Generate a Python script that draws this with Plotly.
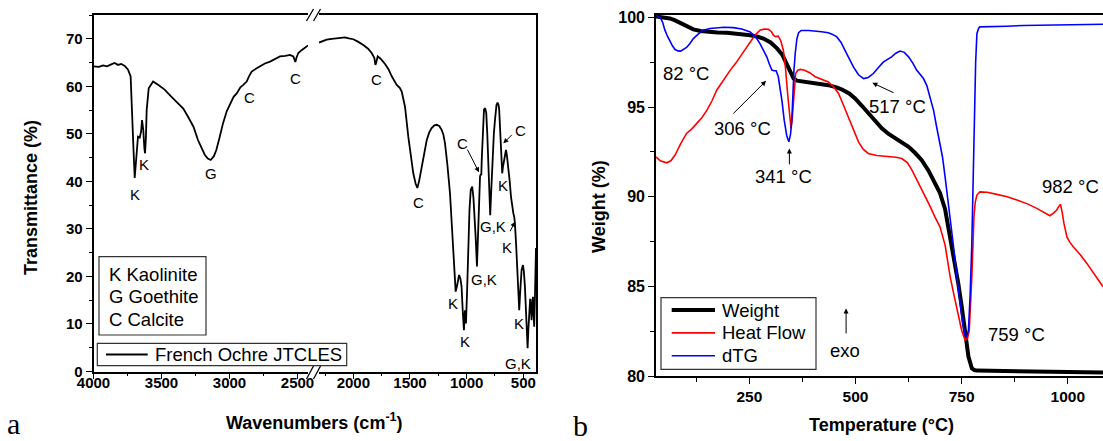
import plotly.graph_objects as go

# ---------------- data : FTIR (panel a) ----------------
wavenumber = [4000, 3960, 3930, 3900, 3870, 3845, 3820, 3796, 3770, 3746, 3727, 3715, 3705, 3697, 3690,
              3685, 3673, 3660, 3650, 3643, 3634, 3626, 3621, 3615, 3609, 3594, 3562, 3520, 3477, 3430,
              3379, 3340, 3305, 3265, 3232, 3200, 3182, 3160, 3138, 3115, 3097, 3075, 3048, 3020, 2996,
              2970, 2947, 2920, 2899, 2874, 2855, 2837, 2800, 2776, 2740, 2702, 2665, 2629, 2590, 2555,
              2531, 2522, 2516, 2508, 2494, 2470, 2445, 2423,
              2303, 2270, 2235, 2190, 2147, 2110, 2073, 2040, 2000, 1960, 1912, 1870, 1838, 1815, 1805,
              1798, 1785, 1760, 1720, 1690, 1661, 1617, 1590, 1573, 1544, 1515, 1490, 1471, 1450, 1435,
              1420, 1397, 1375, 1352, 1330, 1309, 1285, 1265, 1240, 1220, 1205, 1191, 1170, 1147, 1130,
              1118, 1105, 1097, 1085, 1067, 1055, 1045, 1035, 1024, 1018, 1015, 1010, 1006, 996, 986,
              975, 964, 951, 940, 933, 920, 909, 903, 897, 882, 876, 871, 866, 862, 855, 847, 837, 827,
              818, 810, 800, 792, 785, 774, 760, 750, 737, 727, 718, 713, 705, 701, 695, 690, 686, 680,
              671, 660, 653, 645, 633, 620, 609, 598, 588, 580, 574, 563, 553, 545, 536, 527, 515, 503,
              495, 486, 475, 462, 455, 448, 440, 436, 431, 427, 420, 415, 410, 404, 398, 392, 388]
transmittance = [64.2, 64.1, 64.4, 64.2, 64.6, 64.9, 64.5, 64.7, 64.3, 63.5, 62.1, 55.0, 46.0, 40.7, 43.5,
                 46.6, 49.4, 49.2, 50.5, 52.9, 50.8, 47.0, 45.9, 49.0, 55.0, 59.6, 61.0, 60.2, 59.3, 57.9,
                 56.5, 55.3, 53.6, 51.5, 48.7, 46.5, 45.6, 44.8, 44.5, 45.3, 46.6, 49.0, 52.2, 54.8, 56.4,
                 57.8, 58.5, 59.8, 60.3, 61.0, 62.2, 63.1, 63.8, 64.2, 64.8, 65.2, 65.8, 66.3, 66.4, 66.6,
                 66.3, 65.6, 65.1, 66.0, 67.0, 67.6, 68.2, 68.6,
                 69.2, 69.5, 69.8, 70.0, 70.1, 70.3, 70.3, 70.1, 69.9, 69.4, 68.7, 67.9, 67.0, 66.0, 64.5,
                 65.0, 66.3, 65.8, 64.7, 63.6, 62.1, 60.3, 59.7, 58.9, 55.7, 49.4, 45.0, 41.7, 39.5, 38.6,
                 40.0, 43.1, 46.0, 48.7, 50.3, 51.2, 51.8, 51.9, 51.6, 50.8, 49.8, 48.0, 43.5, 37.5, 30.5,
                 25.6, 19.5, 16.8, 18.0, 20.3, 19.5, 17.9, 13.0, 8.7, 11.5, 12.9, 11.0, 10.1, 17.0, 27.0,
                 34.0, 38.2, 38.9, 36.5, 34.0, 28.0, 22.1, 27.0, 34.0, 41.0, 41.5, 41.3, 45.0, 48.0, 53.0,
                 55.1, 55.4, 54.4, 50.0, 44.5, 35.0, 32.9, 37.0, 44.5, 50.0, 52.9, 56.0, 56.6, 56.0, 55.1,
                 50.0, 48.0, 46.6, 43.0, 41.7, 43.0, 44.5, 46.4, 46.6, 45.5, 43.1, 40.0, 36.8, 34.2, 33.3,
                 32.5, 31.2, 26.5, 21.4, 16.5, 12.9, 17.0, 21.4, 22.4, 21.0, 17.9, 10.0, 4.9, 9.0, 12.9,
                 15.1, 15.1, 12.5, 10.8, 14.0, 15.7, 13.0, 9.4, 15.0, 24.9, 26.0]
ftir_name = "French Ochre JTCLES"
break_high, break_low = 2423, 2303          # axis break (cm-1)

band_labels = ["K", "K", "G", "C", "C", "C", "C", "K", "K", "G,K", "G,K", "K", "C", "C", "K", "K", "G,K"]
band_wn = [3695, 3626, 3138, 2854, 2518, 1800, 1426, 1118, 1014, 844, 765, 676, 1038, 529, 641, 539, 544]
band_t = [37.2, 43.5, 41.6, 57.6, 61.6, 61.4, 35.5, 14.4, 6.3, 19.3, 30.5, 39.1, 48.0, 50.8, 26.1, 10.1, 1.7]
mineral_key = ["K Kaolinite", "G Goethite", "C Calcite"]

# ---------------- data : TGA / DSC (panel b) ----------------
temp_weight = [30, 45, 63, 75, 87, 100, 118, 135, 150, 175, 197, 225, 252, 270, 283, 300, 315, 328, 338,
               346, 354, 362, 375, 405, 436, 455, 468, 485, 499, 515, 530, 546, 562, 578, 593, 610, 625,
               640, 656, 672, 687, 699, 711, 723, 732, 742, 750, 758, 766, 774, 780, 786, 856, 935, 1010, 1083]
weight = [100.05, 100.02, 99.94, 99.83, 99.7, 99.52, 99.33, 99.24, 99.19, 99.16, 99.14, 99.08, 99.0, 98.92,
          98.82, 98.6, 98.27, 97.9, 97.43, 97.0, 96.6, 96.47, 96.42, 96.35, 96.22, 96.1, 95.98, 95.76,
          95.48, 95.07, 94.64, 94.2, 93.81, 93.5, 93.25, 93.0, 92.78, 92.45, 92.04, 91.45, 90.74, 90.2,
          89.3, 87.77, 86.5, 85.17, 83.9, 82.56, 81.08, 80.43, 80.33, 80.3, 80.28, 80.24, 80.22, 80.2]

temp_heat = [30, 40, 55, 65, 75, 88, 102, 115, 126, 138, 150, 162, 173, 190, 205, 218, 228, 240, 252, 263,
             275, 285, 295, 302, 307, 312, 318, 324, 330, 335, 340, 344, 348, 351, 354, 357, 359, 364, 370,
             380, 393, 405, 420, 436, 448, 460, 470, 483, 495, 507, 518, 530, 550, 577, 595, 609, 622, 633,
             648, 664, 676, 687, 699, 711, 723, 733, 742, 750, 758, 764, 768, 771, 774, 777, 779, 782, 786,
             793, 810, 833, 857, 880, 905, 927, 945, 958, 967, 974, 980, 983, 987, 991, 998, 1005, 1013,
             1030, 1045, 1065, 1083]
heat_flow = [92.22, 92.0, 91.89, 92.0, 92.32, 92.95, 93.53, 93.8, 94.09, 94.4, 94.83, 95.35, 95.94, 96.55,
             97.06, 97.45, 97.8, 98.25, 98.64, 99.0, 99.29, 99.35, 99.33, 99.2, 99.0, 98.93, 98.95, 98.7,
             98.17, 97.2, 95.76, 94.6, 93.81, 94.4, 95.2, 96.3, 96.87, 97.05, 97.1, 97.05, 96.9, 96.69,
             96.55, 96.4, 96.15, 95.76, 95.2, 94.45, 93.75, 93.06, 92.65, 92.41, 92.3, 92.26, 92.2, 92.13,
             91.9, 91.48, 90.8, 89.99, 89.45, 88.88, 88.32, 87.3, 85.53, 84.4, 83.31, 82.55, 82.01, 82.1,
             82.56, 83.8, 85.53, 87.5, 88.88, 89.7, 90.09, 90.27, 90.25, 90.13, 90.0, 89.81, 89.6, 89.35,
             89.1, 88.94, 89.1, 89.26, 89.5, 89.57, 89.1, 88.51, 87.76, 87.45, 87.21, 86.75, 86.28, 85.6,
             84.98]

temp_dtg = [32, 40, 46, 51, 57, 63, 69, 75, 82, 88, 95, 102, 110, 118, 130, 142, 157, 173, 190, 212, 232,
            252, 265, 275, 283, 291, 297, 303, 308, 313, 318, 322, 327, 332, 338, 343, 347, 350, 352, 355,
            358, 362, 366, 372, 390, 405, 420, 436, 446, 456, 466, 475, 485, 495, 507, 519, 530, 542, 554,
            566, 585, 595, 605, 615, 625, 635, 644, 652, 660, 668, 676, 684, 691, 699, 705, 711, 714, 722,
            730, 738, 746, 752, 758, 762, 766, 770, 774, 777, 780, 783, 786, 790, 793, 820, 856, 895, 935,
            975, 1013, 1050, 1083]
dtg = [100.05, 100.0, 99.7, 99.29, 98.95, 98.64, 98.4, 98.21, 98.13, 98.12, 98.2, 98.32, 98.55, 98.82,
       99.08, 99.29, 99.38, 99.43, 99.45, 99.43, 99.35, 99.19, 98.9, 98.54, 98.2, 97.8, 97.4, 97.06, 97.02,
       97.02, 96.7, 96.13, 95.3, 94.27, 93.4, 93.06, 93.5, 94.27, 95.5, 97.06, 98.0, 98.82, 99.15, 99.27,
       99.27, 99.25, 99.2, 99.14, 99.05, 98.91, 98.6, 98.17, 97.7, 97.24, 96.8, 96.59, 96.65, 96.87, 97.2,
       97.52, 97.8, 98.0, 98.12, 98.05, 97.8, 97.45, 97.06, 96.85, 96.59, 96.2, 95.57, 94.8, 93.9, 93.0,
       92.2, 91.11, 90.55, 89.0, 87.4, 85.7, 84.05, 83.0, 82.29, 82.2, 82.56, 84.5, 87.4, 91.0, 94.83, 97.5,
       99.1, 99.4, 99.47, 99.48, 99.51, 99.55, 99.57, 99.6, 99.62, 99.6, 99.62]

series_names = ["Weight", "Heat Flow", "dTG"]
series_colors = ["#000000", "#ff0000", "#0000ff"]
series_widths = [4, 1.6, 1.6]

peak_labels = ["82 °C", "306 °C", "341 °C", "517 °C", "759 °C", "982 °C", "exo"]
peak_t = [101, 234, 330, 599, 880, 1007, 475]
peak_w = [96.87, 93.81, 91.11, 95.01, 82.29, 90.59, 81.45]

# ---------------- figure ----------------
W, H = 1103, 441
def PX(x):
    return x / W
def PY(y):
    return 1 - y / H

SANS = "Arial, 'Liberation Sans', Helvetica, sans-serif"
SERIF = "'Times New Roman', 'Liberation Serif', serif"

fig = go.Figure()

left_x = [w for w in wavenumber if w >= break_high]
left_y = [t for w, t in zip(wavenumber, transmittance) if w >= break_high]
right_x = [w for w in wavenumber if w <= break_low]
right_y = [t for w, t in zip(wavenumber, transmittance) if w <= break_low]

fig.add_trace(go.Scatter(x=left_x, y=left_y, xaxis="x", yaxis="y", mode="lines", name=ftir_name,
                         line=dict(color="black", width=1.8), showlegend=False))
fig.add_trace(go.Scatter(x=right_x, y=right_y, xaxis="x2", yaxis="y2", mode="lines", name=ftir_name,
                         line=dict(color="black", width=1.8), showlegend=False))

tga = [(temp_weight, weight), (temp_heat, heat_flow), (temp_dtg, dtg)]
for (tx, ty), nm, col, wd in zip(tga, series_names, series_colors, series_widths):
    fig.add_trace(go.Scatter(x=tx, y=ty, xaxis="x3", yaxis="y3", mode="lines", name=nm,
                             line=dict(color=col, width=wd), showlegend=False))

tickfont = dict(family=SANS, size=15, color="black", weight="bold")
axis_common = dict(showline=True, linecolor="black", linewidth=1.6, ticks="outside", ticklen=6,
                   tickwidth=1.4, tickcolor="black", showgrid=False, zeroline=False, tickfont=tickfont,
                   automargin=False)

ya_dom = [PY(371.5), PY(15)]
fig.update_layout(
    width=W, height=H, margin=dict(l=0, r=0, t=0, b=0),
    paper_bgcolor="white", plot_bgcolor="white",
    xaxis=dict(domain=[PX(93.5), PX(308)], range=[4000, break_high], anchor="y", mirror=True,
               tickmode="array", tickvals=[4000, 3500, 3000, 2500], ticklabelstandoff=-9,
               minor=dict(tickmode="array", tickvals=[3750, 3250, 2750], ticklen=3, ticks="outside",
                          tickwidth=1.2, tickcolor="black"),
               **axis_common),
    xaxis2=dict(domain=[PX(319), PX(536)], range=[break_low, 388], anchor="y2", mirror=True,
                tickmode="array", tickvals=[2000, 1500, 1000, 500], ticklabelstandoff=-9,
                minor=dict(tickmode="array", tickvals=[2250, 1750, 1250, 750], ticklen=3, ticks="outside",
                           tickwidth=1.2, tickcolor="black"),
                **axis_common),
    yaxis=dict(domain=ya_dom, range=[0, 75], anchor="x", tickmode="array",
               tickvals=[0, 10, 20, 30, 40, 50, 60, 70],
               minor=dict(tickmode="array", tickvals=[5, 15, 25, 35, 45, 55, 65, 75], ticklen=3,
                          ticks="outside", tickwidth=1.2, tickcolor="black"),
               **axis_common),
    yaxis2=dict(domain=ya_dom, range=[0, 75], anchor="x2", side="right", showline=True, linecolor="black",
                linewidth=1.6, ticks="", showticklabels=False, showgrid=False, zeroline=False,
                automargin=False),
    xaxis3=dict(domain=[PX(656), 1.0], range=[30, 1083], anchor="y3", mirror=True,
                tickmode="array", tickvals=[250, 500, 750, 1000],
                minor=dict(tickmode="array", tickvals=[125, 375, 625, 875], ticklen=4, ticks="outside",
                           tickwidth=1.2, tickcolor="black"),
                **axis_common),
    yaxis3=dict(domain=[PY(376), PY(14.7)], range=[80, 100.15], anchor="x3",
                tickmode="array", tickvals=[80, 85, 90, 95, 100],
                minor=dict(tickmode="array", tickvals=[82.5, 87.5, 92.5, 97.5], ticklen=4, ticks="outside",
                           tickwidth=1.2, tickcolor="black"),
                **axis_common),
)
fig.update_layout(xaxis3_tickfont_size=15.5, yaxis3_tickfont_size=16)

shapes = []
ann = []

def note(x, y, text, font, xref="paper", yref="paper", **kw):
    d = dict(x=x, y=y, xref=xref, yref=yref, text=text, showarrow=False, font=font,
             xanchor="center", yanchor="middle")
    d.update(kw)
    ann.append(d)

# axis-break marks
for (x0, y0, x1, y1) in [(306.5, 21, 313.5, 9), (313.5, 21, 320.5, 9),
                         (306.5, 379, 313.5, 366), (313.5, 379, 320.5, 366)]:
    shapes.append(dict(type="line", xref="paper", yref="paper", x0=PX(x0), y0=PY(y0), x1=PX(x1), y1=PY(y1),
                       line=dict(color="black", width=1.3)))

# band labels (panel a)
for lab, w, t in zip(band_labels, band_wn, band_t):
    xr = "x" if w >= break_high else "x2"
    yr = "y" if w >= break_high else "y2"
    note(w, t, lab, dict(family=SANS, size=15, color="black"), xref=xr, yref=yr)

# arrows (panel a)
for (tx, ty, ax_, ay_) in [(891, 41.9, 1000, 47.0), (676, 48.0, 588, 50.1), (573, 31.5, 623, 29.2)]:
    ann.append(dict(x=tx, y=ty, xref="x2", yref="y2", ax=ax_, ay=ay_, axref="x2", ayref="y2", text="",
                    showarrow=True, arrowhead=2, arrowsize=1, arrowwidth=1, arrowcolor="black"))

# mineral key box
shapes.append(dict(type="rect", xref="paper", yref="paper", x0=PX(99), y0=PY(335), x1=PX(206), y1=PY(256.7),
                   line=dict(color="#333333", width=1.2), fillcolor="white", layer="below"))
for i, txt in enumerate(mineral_key):
    note(PX(107), PY(274 + i * 22.6), txt, dict(family=SANS, size=18.5, color="black"), xanchor="left")

# FTIR legend box
shapes.append(dict(type="rect", xref="paper", yref="paper", x0=PX(97.3), y0=PY(365.7), x1=PX(346.7),
                   y1=PY(343.3), line=dict(color="#333333", width=1.2), fillcolor="white"))
shapes.append(dict(type="line", xref="paper", yref="paper", x0=PX(106), y0=PY(354.5), x1=PX(147.7),
                   y1=PY(354.5), line=dict(color="black", width=1.8)))
note(PX(152.5), PY(354.5), ftir_name, dict(family=SANS, size=18.5, color="black"), xanchor="left")

# TGA legend box
shapes.append(dict(type="rect", xref="paper", yref="paper", x0=PX(661), y0=PY(369.3), x1=PX(816),
                   y1=PY(297.7), line=dict(color="#333333", width=1.2), fillcolor="white"))
for i, (nm, col, wd) in enumerate(zip(series_names, series_colors, series_widths)):
    yy = 310 + i * 22.85
    shapes.append(dict(type="line", xref="paper", yref="paper", x0=PX(671.7), y0=PY(yy), x1=PX(715),
                       y1=PY(yy), line=dict(color=col, width=wd)))
    note(PX(719.5), PY(yy), nm, dict(family=SANS, size=18.5, color="black"), xanchor="left")

# peak labels (panel b)
for lab, t, w in zip(peak_labels, peak_t, peak_w):
    note(t, w, lab, dict(family=SANS, size=18.5, color="black"), xref="x3", yref="y3")
for (tx, ty, ax_, ay_) in [(289.3, 96.46, 208.5, 94.55), (344.2, 92.69, 344.2, 91.72),
                           (539.7, 96.35, 593.2, 95.76), (477.8, 83.77, 477.8, 82.29)]:
    ann.append(dict(x=tx, y=ty, xref="x3", yref="y3", ax=ax_, ay=ay_, axref="x3", ayref="y3", text="",
                    showarrow=True, arrowhead=2, arrowsize=1, arrowwidth=1, arrowcolor="black"))

# axis titles
bold = dict(family=SANS, size=18, color="black", weight="bold")
note(PX(314), PY(421), "Wavenumbers (cm<sup>-1</sup>)", bold)
note(PX(31), PY(198), "Transmittance (%)", bold, textangle=-90)
note(PX(599), PY(207), "Weight (%)", bold, textangle=-90)
note(PX(881), PY(425), "Temperature (°C)", bold)
# panel letters
note(PX(13), PY(423), "a", dict(family=SERIF, size=30, color="black"))
note(PX(580), PY(425), "b", dict(family=SERIF, size=30, color="black"))

fig.update_layout(shapes=shapes, annotations=ann)
fig.write_html("out.html", config={"displayModeBar": False},
               post_script="document.body.style.margin='0px';document.body.style.overflow='hidden';")
